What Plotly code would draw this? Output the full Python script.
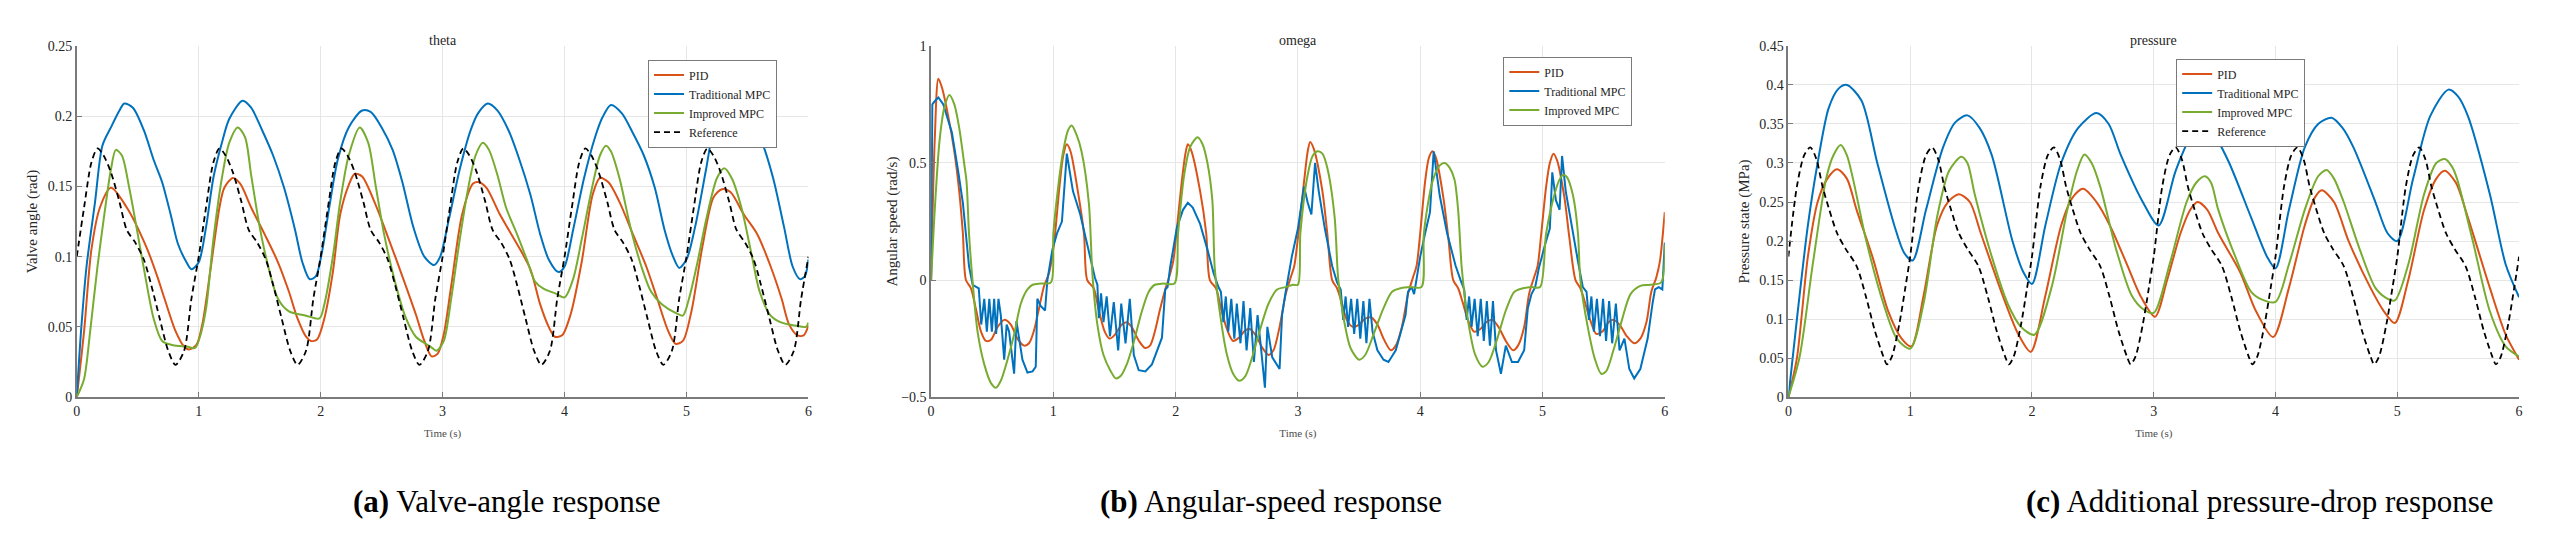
import plotly.graph_objects as go

# ---------------- data (time [s], value) ----------------
TIME_TICKS = [0, 1, 2, 3, 4, 5, 6]

THETA_TICKS = [0, 0.05, 0.1, 0.15, 0.2, 0.25]
THETA_TICKTEXT = ["0", "0.05", "0.1", "0.15", "0.2", "0.25"]
OMEGA_TICKS = [-0.5, 0, 0.5, 1]
OMEGA_TICKTEXT = ["\u22120.5", "0", "0.5", "1"]
PRESS_TICKS = [0, 0.05, 0.1, 0.15, 0.2, 0.25, 0.3, 0.35, 0.4, 0.45]
PRESS_TICKTEXT = ["0", "0.05", "0.1", "0.15", "0.2", "0.25", "0.3", "0.35", "0.4", "0.45"]

SERIES_NAMES = ["PID", "Traditional MPC", "Improved MPC", "Reference"]

# ---- (a) valve angle ----
THETA_PID = [(0, 0), (0.06, 0.047), (0.12, 0.105), (0.19, 0.135), (0.28, 0.149), (0.41, 0.135),
             (0.57, 0.107), (0.66, 0.086), (0.72, 0.07), (0.81, 0.047), (0.88, 0.036), (0.92, 0.034),
             (0.98, 0.037), (1.03, 0.052), (1.1, 0.093), (1.17, 0.135), (1.21, 0.149), (1.28, 0.156),
             (1.34, 0.152), (1.43, 0.135), (1.54, 0.116), (1.65, 0.096), (1.74, 0.075), (1.81, 0.056),
             (1.88, 0.043), (1.92, 0.04), (1.97, 0.041), (2.03, 0.056), (2.1, 0.089), (2.16, 0.13),
             (2.23, 0.151), (2.28, 0.159), (2.34, 0.157), (2.45, 0.137), (2.56, 0.112), (2.67, 0.086),
             (2.78, 0.059), (2.85, 0.04), (2.91, 0.029), (2.96, 0.031), (3.01, 0.045), (3.07, 0.079),
             (3.16, 0.13), (3.25, 0.152), (3.3, 0.153), (3.36, 0.149), (3.47, 0.13), (3.61, 0.109),
             (3.72, 0.091), (3.8, 0.066), (3.87, 0.05), (3.92, 0.043), (3.98, 0.044), (4.05, 0.059),
             (4.14, 0.096), (4.23, 0.144), (4.29, 0.156), (4.36, 0.153), (4.45, 0.139), (4.56, 0.116),
             (4.67, 0.093), (4.76, 0.07), (4.85, 0.047), (4.91, 0.038), (4.97, 0.04), (5.04, 0.061),
             (5.13, 0.107), (5.22, 0.142), (5.29, 0.148), (5.36, 0.146), (5.47, 0.13), (5.58, 0.116),
             (5.69, 0.093), (5.78, 0.07), (5.84, 0.052), (5.91, 0.044), (5.96, 0.044), (6.0, 0.051)]

THETA_TMPC = [(0, 0), (0.035, 0.047), (0.08, 0.093), (0.15, 0.139), (0.21, 0.179), (0.28, 0.192),
              (0.35, 0.204), (0.39, 0.209), (0.46, 0.206), (0.55, 0.19), (0.63, 0.169), (0.7, 0.153),
              (0.77, 0.13), (0.83, 0.109), (0.9, 0.096), (0.94, 0.091), (1.0, 0.096), (1.06, 0.121),
              (1.12, 0.156), (1.19, 0.181), (1.25, 0.198), (1.36, 0.211), (1.43, 0.206), (1.52, 0.19),
              (1.61, 0.172), (1.7, 0.149), (1.79, 0.119), (1.85, 0.096), (1.91, 0.084), (1.96, 0.086),
              (2.01, 0.103), (2.07, 0.135), (2.14, 0.169), (2.23, 0.192), (2.34, 0.204), (2.41, 0.203),
              (2.5, 0.192), (2.59, 0.176), (2.67, 0.153), (2.76, 0.121), (2.85, 0.1), (2.93, 0.094),
              (2.98, 0.1), (3.05, 0.126), (3.14, 0.162), (3.23, 0.19), (3.29, 0.202), (3.37, 0.209),
              (3.45, 0.204), (3.54, 0.19), (3.63, 0.169), (3.72, 0.144), (3.8, 0.116), (3.87, 0.098),
              (3.95, 0.089), (4.0, 0.093), (4.07, 0.119), (4.16, 0.156), (4.25, 0.185), (4.31, 0.199),
              (4.38, 0.208), (4.47, 0.202), (4.56, 0.188), (4.65, 0.172), (4.74, 0.149), (4.82, 0.119),
              (4.89, 0.1), (4.94, 0.092), (5.0, 0.098), (5.07, 0.121), (5.16, 0.162), (5.22, 0.19),
              (5.29, 0.204), (5.36, 0.21), (5.45, 0.206), (5.53, 0.195), (5.62, 0.181), (5.71, 0.156),
              (5.8, 0.121), (5.87, 0.093), (5.93, 0.084), (5.97, 0.086), (6.0, 0.098)]

THETA_IMPC = [(0, 0), (0.06, 0.013), (0.11, 0.047), (0.17, 0.093), (0.24, 0.139), (0.28, 0.162),
              (0.32, 0.176), (0.37, 0.172), (0.43, 0.149), (0.5, 0.116), (0.57, 0.082), (0.63, 0.056),
              (0.7, 0.04), (0.79, 0.037), (0.9, 0.036), (0.97, 0.035), (1.01, 0.043), (1.06, 0.063),
              (1.12, 0.112), (1.19, 0.156), (1.25, 0.181), (1.32, 0.192), (1.38, 0.185), (1.43, 0.158),
              (1.5, 0.121), (1.57, 0.093), (1.65, 0.07), (1.74, 0.061), (1.88, 0.058), (1.99, 0.056),
              (2.03, 0.066), (2.1, 0.1), (2.16, 0.139), (2.23, 0.172), (2.32, 0.192), (2.39, 0.181),
              (2.45, 0.151), (2.52, 0.116), (2.61, 0.082), (2.7, 0.056), (2.78, 0.043), (2.9, 0.036),
              (2.95, 0.033), (3.01, 0.04), (3.07, 0.07), (3.14, 0.112), (3.21, 0.149), (3.27, 0.172),
              (3.33, 0.181), (3.38, 0.176), (3.45, 0.158), (3.52, 0.135), (3.61, 0.116), (3.69, 0.098),
              (3.76, 0.082), (3.83, 0.077), (3.92, 0.074), (4.0, 0.071), (4.07, 0.084), (4.14, 0.112),
              (4.23, 0.151), (4.29, 0.172), (4.34, 0.179), (4.38, 0.175), (4.45, 0.156), (4.54, 0.121),
              (4.63, 0.093), (4.71, 0.075), (4.8, 0.066), (4.91, 0.06), (4.97, 0.058), (5.02, 0.07),
              (5.09, 0.096), (5.16, 0.126), (5.25, 0.156), (5.31, 0.163), (5.37, 0.156), (5.45, 0.135),
              (5.53, 0.103), (5.6, 0.075), (5.69, 0.058), (5.78, 0.053), (5.89, 0.051), (5.98, 0.05),
              (6.0, 0.053)]

THETA_REF = [
    (0.0, 0.100), (0.06, 0.135), (0.12, 0.167), (0.17, 0.177), (0.22, 0.172), (0.28, 0.160), (0.35, 0.139), (0.41, 0.119),
    (0.48, 0.110), (0.55, 0.098), (0.61, 0.080), (0.68, 0.056), (0.75, 0.033), (0.81, 0.023), (0.88, 0.033), (0.94, 0.070),
    (1.0, 0.100), (1.06, 0.135), (1.12, 0.167), (1.17, 0.177), (1.22, 0.172), (1.28, 0.160), (1.35, 0.139), (1.41, 0.119),
    (1.48, 0.110), (1.55, 0.098), (1.61, 0.080), (1.68, 0.056), (1.75, 0.033), (1.81, 0.023), (1.88, 0.033), (1.94, 0.070),
    (2.0, 0.100), (2.06, 0.135), (2.12, 0.167), (2.17, 0.177), (2.22, 0.172), (2.28, 0.160), (2.35, 0.139), (2.41, 0.119),
    (2.48, 0.110), (2.55, 0.098), (2.61, 0.080), (2.68, 0.056), (2.75, 0.033), (2.81, 0.023), (2.88, 0.033), (2.94, 0.070),
    (3.0, 0.100), (3.06, 0.135), (3.12, 0.167), (3.17, 0.177), (3.22, 0.172), (3.28, 0.160), (3.35, 0.139), (3.41, 0.119),
    (3.48, 0.110), (3.55, 0.098), (3.61, 0.080), (3.68, 0.056), (3.75, 0.033), (3.81, 0.023), (3.88, 0.033), (3.94, 0.070),
    (4.0, 0.100), (4.06, 0.135), (4.12, 0.167), (4.17, 0.177), (4.22, 0.172), (4.28, 0.160), (4.35, 0.139), (4.41, 0.119),
    (4.48, 0.110), (4.55, 0.098), (4.61, 0.080), (4.68, 0.056), (4.75, 0.033), (4.81, 0.023), (4.88, 0.033), (4.94, 0.070),
    (5.0, 0.100), (5.06, 0.135), (5.12, 0.167), (5.17, 0.177), (5.22, 0.172), (5.28, 0.160), (5.35, 0.139), (5.41, 0.119),
    (5.48, 0.110), (5.55, 0.098), (5.61, 0.080), (5.68, 0.056), (5.75, 0.033), (5.81, 0.023), (5.88, 0.033), (5.94, 0.070),
    (6.0, 0.100)]

# ---- (b) angular speed ----
OMEGA_PID = [
    (0, 0), (0.03, 0.6), (0.06, 0.86), (0.09, 0.82), (0.14, 0.7), (0.19, 0.55), (0.23, 0.38), (0.26, 0.2),
    (0.285, 0.0), (0.326, -0.035), (0.367, -0.125), (0.408, -0.22), (0.449, -0.26), (0.49, -0.255),
    (0.544, -0.2), (0.598, -0.17), (0.652, -0.19), (0.706, -0.25), (0.761, -0.28), (0.801, -0.27),
    (0.842, -0.215), (0.883, -0.12), (0.924, -0.025), (0.965, 0.03), (1.005, 0.155), (1.05, 0.4),
    (1.08, 0.53), (1.11, 0.58), (1.14, 0.55), (1.2, 0.38), (1.25, 0.2), (1.277, 0.0),
    (1.33, -0.035), (1.37, -0.125), (1.42, -0.22), (1.46, -0.25), (1.5, -0.235), (1.56, -0.19),
    (1.6, -0.18), (1.64, -0.2), (1.7, -0.26), (1.75, -0.29), (1.79, -0.28), (1.83, -0.22),
    (1.87, -0.13), (1.915, -0.04), (1.94, 0.0), (1.98, 0.08), (2.01, 0.22), (2.05, 0.42),
    (2.08, 0.54), (2.1, 0.58), (2.13, 0.55), (2.2, 0.38), (2.25, 0.2), (2.28, 0.0),
    (2.33, -0.035), (2.37, -0.12), (2.42, -0.21), (2.47, -0.26), (2.52, -0.245), (2.57, -0.215),
    (2.61, -0.21), (2.66, -0.24), (2.71, -0.29), (2.76, -0.32), (2.8, -0.3), (2.85, -0.2),
    (2.9, -0.06), (2.94, 0.01), (2.97, 0.06), (3.0, 0.18), (3.05, 0.42), (3.08, 0.55),
    (3.1, 0.59), (3.13, 0.56), (3.2, 0.38), (3.24, 0.2), (3.28, 0.0),
    (3.32, -0.035), (3.36, -0.1), (3.4, -0.17), (3.45, -0.2), (3.5, -0.19), (3.55, -0.165),
    (3.6, -0.16), (3.65, -0.19), (3.7, -0.25), (3.76, -0.3), (3.8, -0.28), (3.85, -0.2),
    (3.9, -0.06), (3.94, 0.01), (3.97, 0.06), (4.0, 0.2), (4.04, 0.42), (4.07, 0.52),
    (4.1, 0.55), (4.13, 0.52), (4.19, 0.35), (4.23, 0.18), (4.27, 0.0),
    (4.31, -0.035), (4.35, -0.1), (4.39, -0.17), (4.44, -0.22), (4.49, -0.21), (4.54, -0.18),
    (4.59, -0.17), (4.64, -0.2), (4.7, -0.26), (4.76, -0.3), (4.8, -0.28), (4.85, -0.2),
    (4.89, -0.06), (4.93, 0.01), (4.96, 0.06), (4.99, 0.2), (5.03, 0.4), (5.06, 0.5),
    (5.09, 0.54), (5.12, 0.51), (5.18, 0.35), (5.22, 0.18), (5.27, 0.0),
    (5.31, -0.035), (5.35, -0.1), (5.39, -0.17), (5.44, -0.23), (5.49, -0.22), (5.54, -0.18),
    (5.58, -0.17), (5.63, -0.19), (5.69, -0.24), (5.75, -0.27), (5.8, -0.25), (5.85, -0.18),
    (5.89, -0.05), (5.93, 0.01), (5.96, 0.08), (6.0, 0.29)]

OMEGA_TMPC = [
    (0, 0), (0.01, 0.75), (0.04, 0.77), (0.06, 0.78), (0.1, 0.75), (0.17, 0.63), (0.22, 0.47), (0.26, 0.33),
    (0.31, 0.06), (0.34, -0.02), (0.39, -0.035), (0.41, -0.19), (0.435, -0.08), (0.456, -0.22),
    (0.476, -0.08), (0.497, -0.22), (0.516, -0.08), (0.532, -0.23), (0.551, -0.08), (0.57, -0.15),
    (0.598, -0.34), (0.618, -0.19), (0.638, -0.22), (0.679, -0.4), (0.698, -0.175), (0.747, -0.34),
    (0.788, -0.395), (0.83, -0.39), (0.856, -0.37), (0.869, -0.08), (0.896, -0.11), (0.932, -0.13),
    (0.951, 0.0), (0.992, 0.13), (1.03, 0.2), (1.07, 0.25), (1.11, 0.54), (1.16, 0.38), (1.22, 0.28),
    (1.29, 0.12), (1.34, 0.01), (1.36, -0.02),
    (1.372, -0.163), (1.39, -0.057), (1.41, -0.18), (1.436, -0.07), (1.463, -0.24), (1.494, -0.094),
    (1.53, -0.3), (1.555, -0.1), (1.59, -0.27), (1.625, -0.08), (1.658, -0.32), (1.698, -0.385),
    (1.752, -0.39), (1.806, -0.36), (1.888, -0.246), (1.915, -0.04), (1.934, -0.03), (1.956, 0.058),
    (2.01, 0.224), (2.06, 0.3), (2.1, 0.33), (2.14, 0.31), (2.2, 0.24), (2.26, 0.13), (2.31, 0.03),
    (2.35, -0.03), (2.37, -0.05),
    (2.39, -0.18), (2.41, -0.07), (2.43, -0.22), (2.455, -0.08), (2.48, -0.25), (2.5, -0.1),
    (2.53, -0.27), (2.555, -0.09), (2.58, -0.3), (2.61, -0.12), (2.64, -0.35), (2.67, -0.15),
    (2.7, -0.3), (2.73, -0.46), (2.75, -0.2), (2.79, -0.33), (2.85, -0.38), (2.87, -0.15),
    (2.9, -0.05), (2.95, 0.1), (3.0, 0.22), (3.05, 0.4), (3.08, 0.33), (3.11, 0.28), (3.14, 0.5),
    (3.17, 0.38), (3.22, 0.22), (3.28, 0.06), (3.32, -0.01), (3.35, -0.04),
    (3.37, -0.17), (3.39, -0.07), (3.41, -0.2), (3.435, -0.08), (3.46, -0.23), (3.485, -0.08),
    (3.51, -0.25), (3.535, -0.09), (3.56, -0.27), (3.585, -0.08), (3.61, -0.22), (3.65, -0.3),
    (3.7, -0.34), (3.74, -0.35), (3.8, -0.3), (3.85, -0.2), (3.88, -0.15), (3.9, -0.05),
    (3.93, -0.03), (3.95, -0.06), (4.0, 0.1), (4.04, 0.2), (4.08, 0.29), (4.11, 0.55), (4.16, 0.36),
    (4.22, 0.2), (4.29, 0.06), (4.33, 0.0), (4.36, -0.04),
    (4.38, -0.17), (4.4, -0.07), (4.42, -0.2), (4.445, -0.08), (4.47, -0.24), (4.495, -0.08),
    (4.52, -0.26), (4.545, -0.09), (4.57, -0.28), (4.595, -0.09), (4.62, -0.3), (4.66, -0.4),
    (4.7, -0.28), (4.75, -0.35), (4.8, -0.35), (4.85, -0.3), (4.88, -0.12), (4.91, -0.06),
    (4.94, -0.03), (4.97, 0.05), (5.02, 0.15), (5.06, 0.22), (5.08, 0.46), (5.11, 0.34), (5.14, 0.3),
    (5.16, 0.53), (5.19, 0.38), (5.24, 0.22), (5.29, 0.08), (5.33, -0.03), (5.36, -0.05),
    (5.38, -0.17), (5.4, -0.07), (5.42, -0.22), (5.445, -0.08), (5.47, -0.24), (5.495, -0.08),
    (5.52, -0.26), (5.545, -0.09), (5.57, -0.27), (5.6, -0.1), (5.63, -0.3), (5.67, -0.25),
    (5.71, -0.38), (5.75, -0.42), (5.8, -0.38), (5.86, -0.25), (5.9, -0.1), (5.92, -0.04),
    (5.95, -0.03), (5.98, -0.04), (6.0, 0.16)]

OMEGA_IMPC = [
    (0, 0), (0.03, 0.3), (0.07, 0.6), (0.11, 0.74), (0.15, 0.79), (0.19, 0.75), (0.23, 0.65), (0.27, 0.5),
    (0.29, 0.42), (0.31, 0.2), (0.34, -0.01), (0.38, -0.22), (0.435, -0.36), (0.49, -0.44), (0.53, -0.46),
    (0.57, -0.43), (0.625, -0.34), (0.68, -0.23), (0.734, -0.1), (0.788, -0.04), (0.83, -0.02),
    (0.9, -0.015), (0.98, -0.01), (1.0, 0.2), (1.04, 0.4), (1.08, 0.55), (1.12, 0.64), (1.15, 0.66),
    (1.19, 0.62), (1.23, 0.55), (1.29, 0.33), (1.32, 0.02), (1.36, -0.19), (1.41, -0.32), (1.47, -0.39),
    (1.51, -0.42), (1.55, -0.41), (1.6, -0.36), (1.66, -0.26), (1.72, -0.14), (1.78, -0.05),
    (1.83, -0.02), (1.9, -0.015), (1.99, -0.015), (2.02, 0.2), (2.07, 0.45), (2.12, 0.57), (2.18, 0.61),
    (2.22, 0.58), (2.26, 0.5), (2.3, 0.34), (2.32, 0.05), (2.37, -0.17), (2.42, -0.32), (2.47, -0.4),
    (2.52, -0.43), (2.57, -0.41), (2.62, -0.34), (2.68, -0.23), (2.76, -0.1), (2.83, -0.04),
    (2.9, -0.03), (2.96, -0.02), (3.0, -0.02), (3.02, 0.2), (3.08, 0.45), (3.12, 0.53), (3.16, 0.55),
    (3.2, 0.54), (3.24, 0.48), (3.3, 0.27), (3.33, 0.0), (3.38, -0.18), (3.43, -0.29), (3.5, -0.34),
    (3.55, -0.32), (3.62, -0.23), (3.7, -0.12), (3.77, -0.05), (3.84, -0.035), (3.92, -0.03),
    (4.01, -0.03), (4.03, 0.2), (4.1, 0.42), (4.16, 0.49), (4.2, 0.5), (4.24, 0.48), (4.28, 0.43),
    (4.31, 0.3), (4.34, 0.05), (4.39, -0.17), (4.45, -0.32), (4.51, -0.37), (4.56, -0.35),
    (4.63, -0.25), (4.7, -0.13), (4.77, -0.05), (4.84, -0.035), (4.91, -0.03), (4.98, -0.03),
    (5.03, 0.2), (5.1, 0.37), (5.14, 0.43), (5.17, 0.45), (5.2, 0.44), (5.25, 0.36), (5.29, 0.2),
    (5.31, 0.0), (5.37, -0.2), (5.43, -0.34), (5.48, -0.4), (5.52, -0.39), (5.58, -0.3),
    (5.65, -0.17), (5.72, -0.06), (5.8, -0.025), (5.88, -0.02), (5.97, -0.01), (6.0, 0.15)]

# ---- (c) pressure ----
PRESS_PID = [
    (0, 0), (0.07, 0.05), (0.16, 0.18), (0.24, 0.25), (0.32, 0.28), (0.4, 0.292), (0.48, 0.28),
    (0.56, 0.24), (0.69, 0.18), (0.82, 0.11), (0.93, 0.075), (1.01, 0.065), (1.11, 0.13),
    (1.22, 0.22), (1.31, 0.25), (1.4, 0.26), (1.49, 0.25), (1.58, 0.21), (1.76, 0.13), (1.89, 0.08),
    (1.99, 0.058), (2.11, 0.13), (2.24, 0.22), (2.33, 0.255), (2.42, 0.267), (2.53, 0.25),
    (2.64, 0.22), (2.78, 0.17), (2.89, 0.13), (3.01, 0.103), (3.11, 0.15), (3.22, 0.21), (3.3, 0.24),
    (3.36, 0.25), (3.44, 0.24), (3.53, 0.21), (3.71, 0.16), (3.84, 0.11), (3.98, 0.077), (4.11, 0.14),
    (4.24, 0.22), (4.32, 0.255), (4.38, 0.265), (4.48, 0.25), (4.6, 0.2), (4.78, 0.14), (4.89, 0.11),
    (4.98, 0.095), (5.09, 0.15), (5.22, 0.24), (5.32, 0.28), (5.39, 0.29), (5.48, 0.275),
    (5.58, 0.23), (5.76, 0.14), (5.89, 0.08), (6.0, 0.048)]

PRESS_TMPC = [
    (0, 0), (0.07, 0.1), (0.16, 0.22), (0.24, 0.3), (0.33, 0.37), (0.41, 0.395), (0.48, 0.4),
    (0.6, 0.38), (0.73, 0.3), (0.87, 0.22), (0.95, 0.185), (1.02, 0.175), (1.13, 0.24), (1.27, 0.32),
    (1.37, 0.352), (1.47, 0.361), (1.57, 0.345), (1.67, 0.31), (1.84, 0.2), (1.93, 0.16), (2.0, 0.145),
    (2.11, 0.22), (2.24, 0.3), (2.38, 0.345), (2.53, 0.364), (2.63, 0.35), (2.73, 0.31), (2.91, 0.25),
    (3.04, 0.22), (3.18, 0.29), (3.31, 0.335), (3.42, 0.348), (3.52, 0.33), (3.62, 0.3), (3.8, 0.23),
    (3.93, 0.18), (4.0, 0.165), (4.11, 0.24), (4.24, 0.32), (4.35, 0.35), (4.46, 0.358), (4.55, 0.345),
    (4.64, 0.32), (4.82, 0.25), (4.92, 0.21), (5.0, 0.2), (5.13, 0.28), (5.27, 0.36), (5.42, 0.394),
    (5.5, 0.385), (5.58, 0.36), (5.76, 0.26), (5.89, 0.17), (6.0, 0.128)]

PRESS_IMPC = [
    (0, 0), (0.09, 0.05), (0.2, 0.17), (0.31, 0.28), (0.37, 0.31), (0.43, 0.323), (0.48, 0.31),
    (0.53, 0.28), (0.64, 0.2), (0.78, 0.12), (0.89, 0.075), (1.0, 0.062), (1.11, 0.12), (1.22, 0.23),
    (1.32, 0.29), (1.42, 0.308), (1.47, 0.3), (1.53, 0.26), (1.67, 0.18), (1.8, 0.12), (1.91, 0.09),
    (2.02, 0.08), (2.16, 0.14), (2.29, 0.24), (2.37, 0.29), (2.43, 0.311), (2.49, 0.3), (2.56, 0.27),
    (2.69, 0.19), (2.82, 0.13), (2.92, 0.112), (3.0, 0.108), (3.13, 0.17), (3.27, 0.25), (3.35, 0.275),
    (3.42, 0.283), (3.47, 0.275), (3.53, 0.24), (3.67, 0.18), (3.8, 0.135), (3.89, 0.125), (4.0, 0.122),
    (4.11, 0.17), (4.24, 0.24), (4.35, 0.283), (4.42, 0.291), (4.48, 0.28), (4.56, 0.25), (4.69, 0.19),
    (4.82, 0.14), (4.91, 0.127), (4.98, 0.124), (5.09, 0.17), (5.22, 0.26), (5.32, 0.3), (5.39, 0.305),
    (5.45, 0.295), (5.49, 0.28), (5.62, 0.2), (5.76, 0.11), (5.89, 0.065), (6.0, 0.052)]

PRESS_REF = [
    (0.0, 0.180), (0.07, 0.270), (0.13, 0.310), (0.18, 0.320), (0.23, 0.305), (0.28, 0.270), (0.33, 0.243), (0.40, 0.210), (0.47, 0.190),
    (0.56, 0.168), (0.64, 0.127), (0.71, 0.085), (0.78, 0.052), (0.81, 0.042), (0.85, 0.052), (0.91, 0.093), (0.96, 0.140),
    (1.0, 0.180), (1.07, 0.270), (1.13, 0.310), (1.18, 0.320), (1.23, 0.305), (1.28, 0.270), (1.33, 0.243), (1.40, 0.210), (1.47, 0.190),
    (1.56, 0.168), (1.64, 0.127), (1.71, 0.085), (1.78, 0.052), (1.81, 0.042), (1.85, 0.052), (1.91, 0.093), (1.96, 0.140),
    (2.0, 0.180), (2.07, 0.270), (2.13, 0.310), (2.18, 0.320), (2.23, 0.305), (2.28, 0.270), (2.33, 0.243), (2.40, 0.210), (2.47, 0.190),
    (2.56, 0.168), (2.64, 0.127), (2.71, 0.085), (2.78, 0.052), (2.81, 0.042), (2.85, 0.052), (2.91, 0.093), (2.96, 0.140),
    (3.0, 0.180), (3.07, 0.270), (3.13, 0.310), (3.18, 0.320), (3.23, 0.305), (3.28, 0.270), (3.33, 0.243), (3.40, 0.210), (3.47, 0.190),
    (3.56, 0.168), (3.64, 0.127), (3.71, 0.085), (3.78, 0.052), (3.81, 0.042), (3.85, 0.052), (3.91, 0.093), (3.96, 0.140),
    (4.0, 0.180), (4.07, 0.270), (4.13, 0.310), (4.18, 0.320), (4.23, 0.305), (4.28, 0.270), (4.33, 0.243), (4.40, 0.210), (4.47, 0.190),
    (4.56, 0.168), (4.64, 0.127), (4.71, 0.085), (4.78, 0.052), (4.81, 0.042), (4.85, 0.052), (4.91, 0.093), (4.96, 0.140),
    (5.0, 0.180), (5.07, 0.270), (5.13, 0.310), (5.18, 0.320), (5.23, 0.305), (5.28, 0.270), (5.33, 0.243), (5.40, 0.210), (5.47, 0.190),
    (5.56, 0.168), (5.64, 0.127), (5.71, 0.085), (5.78, 0.052), (5.81, 0.042), (5.85, 0.052), (5.91, 0.093), (5.96, 0.140),
    (6.0, 0.180)]

# ---------------- styling / layout ----------------
W, H = 2552, 554
COLORS = {"PID": "#D95319", "Traditional MPC": "#0072BD", "Improved MPC": "#77AC30", "Reference": "#000000"}
FONT = "Liberation Serif"
AXIS_GREY = "#7a7a7a"
GRID = "#e6e6e6"
TEXT = "#262626"


def xs(p):
    return p / W


def ys(p):
    return 1 - p / H


PANEL_X = [(73, 807), (930, 1666), (1790, 2523)]
PANEL_Y = (40, 401)

fig = go.Figure()

panels = [
    dict(series=[THETA_PID, THETA_TMPC, THETA_IMPC, THETA_REF], legend="legend",
         shapes=["spline", "spline", "spline", "spline"]),
    dict(series=[OMEGA_PID, OMEGA_TMPC, OMEGA_IMPC], legend="legend2",
         shapes=["spline", "linear", "spline"]),
    dict(series=[PRESS_PID, PRESS_TMPC, PRESS_IMPC, PRESS_REF], legend="legend3",
         shapes=["spline", "spline", "spline", "spline"]),
]

for i, p in enumerate(panels):
    ax = "" if i == 0 else str(i + 1)
    for name, data, shp in zip(SERIES_NAMES, p["series"], p["shapes"]):
        t = [d[0] for d in data]
        v = [d[1] for d in data]
        line = dict(color=COLORS[name], width=2, shape=shp)
        if shp == "spline":
            line["smoothing"] = 0.8
        if name == "Reference":
            line["dash"] = "6px,4px"
            line["width"] = 1.8
        fig.add_trace(go.Scatter(x=t, y=v, mode="lines", name=name, line=line,
                                 xaxis="x" + ax, yaxis="y" + ax, legend=p["legend"]))

y_domain = [ys(PANEL_Y[1]), ys(PANEL_Y[0])]

base_axis = dict(showgrid=True, gridcolor=GRID, gridwidth=1, showline=True, linecolor=AXIS_GREY,
                 linewidth=1.5, ticks="inside", ticklen=5, tickwidth=1, tickcolor=AXIS_GREY,
                 zeroline=False, tickfont=dict(family=FONT, size=14, color=TEXT), fixedrange=True)

y_specs = [
    ([0, 0.25], THETA_TICKS, THETA_TICKTEXT, "Valve angle (rad)", 6),
    ([-0.5, 1], OMEGA_TICKS, OMEGA_TICKTEXT, "Angular speed (rad/s)", 0),
    ([0, 0.45], PRESS_TICKS, PRESS_TICKTEXT, "Pressure state (MPa)", 6),
]

layout = dict(width=W, height=H, margin=dict(l=0, r=0, t=0, b=0), paper_bgcolor="white",
              plot_bgcolor="white", font=dict(family=FONT, color=TEXT), showlegend=True)

for i, (x0, x1) in enumerate(PANEL_X):
    ax = "" if i == 0 else str(i + 1)
    yr, yt, ytt, ytitle, ystand = y_specs[i]
    layout["xaxis" + ax] = dict(base_axis, domain=[xs(x0), xs(x1)], range=[0, 6], tickmode="array",
                                tickvals=TIME_TICKS, ticktext=[str(v) for v in TIME_TICKS],
                                anchor="y" + ax,
                                title=dict(text="Time (s)", standoff=12,
                                           font=dict(family=FONT, size=11, color="#4d4d4d")))
    layout["yaxis" + ax] = dict(base_axis, domain=y_domain, range=yr, tickmode="array",
                                tickvals=yt, ticktext=ytt, anchor="x" + ax,
                                title=dict(text=ytitle, standoff=ystand,
                                           font=dict(family=FONT, size=15, color=TEXT)))

legend_pos = [(646, 54), (1504, 51), (2179, 53)]
for i, (lx, ly) in enumerate(legend_pos):
    key = "legend" if i == 0 else "legend" + str(i + 1)
    layout[key] = dict(x=xs(lx), y=ys(ly), xanchor="left", yanchor="top", bgcolor="white",
                       bordercolor=AXIS_GREY, borderwidth=1,
                       font=dict(family=FONT, size=12, color=TEXT), tracegroupgap=0)

fig.update_layout(**layout)

titles = ["theta", "omega", "pressure"]
for i, (x0, x1) in enumerate(PANEL_X):
    fig.add_annotation(x=xs((x0 + x1) / 2), y=ys(34), xref="paper", yref="paper", text=titles[i],
                       showarrow=False, xanchor="center", yanchor="middle",
                       font=dict(family=FONT, size=14, color=TEXT))

captions = ["<b>(a)</b> Valve-angle response", "<b>(b)</b> Angular-speed response",
            "<b>(c)</b> Additional pressure-drop response"]
caption_x = [505, 1271, 2263]
for cx, cap in zip(caption_x, captions):
    fig.add_annotation(x=xs(cx), y=ys(508), xref="paper", yref="paper", text=cap, showarrow=False,
                       xanchor="center", yanchor="middle", font=dict(family=FONT, size=31, color="#000000"))

fig.write_html("out.html")
